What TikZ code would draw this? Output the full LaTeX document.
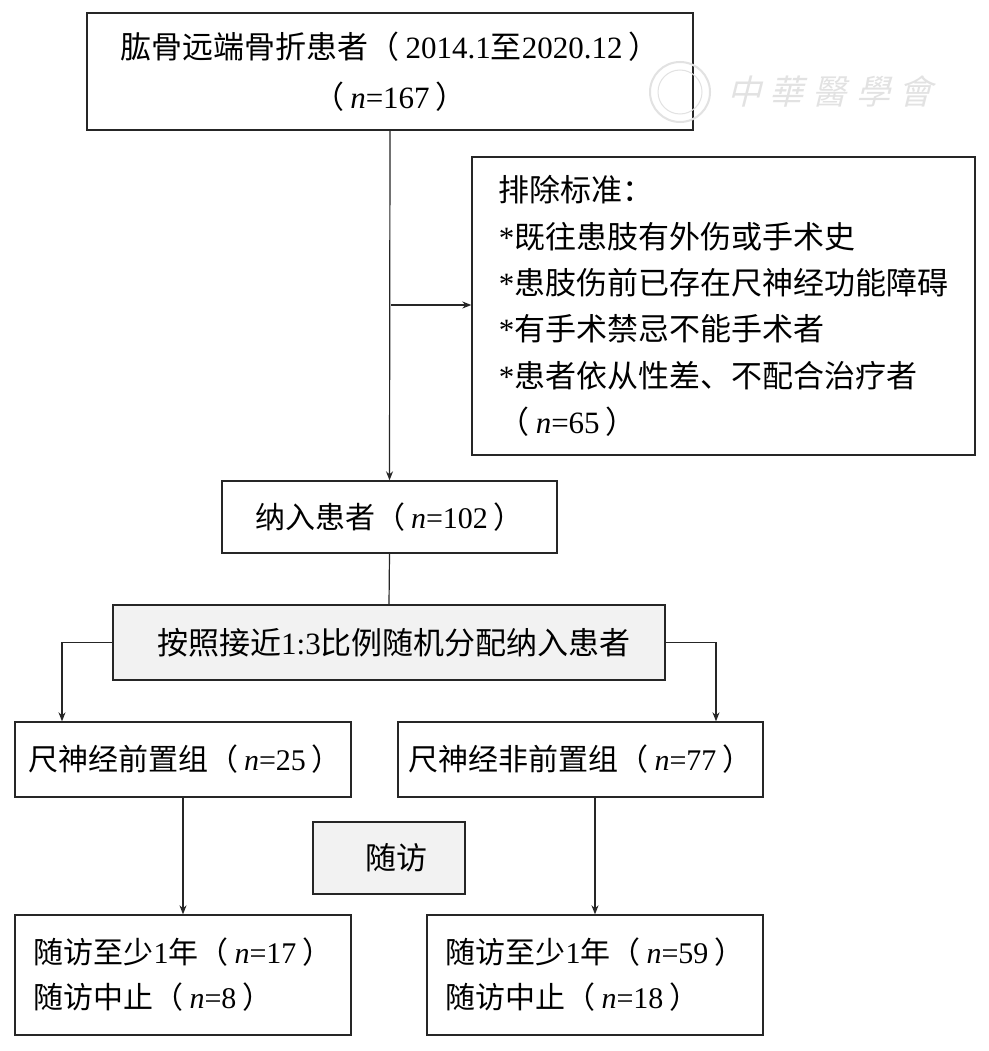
\documentclass[tikz,border=0pt]{standalone}
\usepackage{fontspec}
\setmainfont{Liberation Serif}
\newfontfamily\cjk{Noto Sans CJK SC}
\newfontfamily\wmfont[FakeSlant=0.25]{Noto Sans CJK TC}
\usetikzlibrary{arrows.meta,calc}
\newcommand{\C}[1]{{\cjk #1}}
\newcommand{\nn}{\textit{n}}
\newcommand{\LP}{{\cjk （}\hspace{6pt}}
\newcommand{\RP}{\hspace{6pt}{\cjk ）}}
\definecolor{boxgray}{HTML}{F2F2F2}
\definecolor{wmgray}{HTML}{E2E2E2}
\tikzset{
  box/.style={draw=black!85, line width=1.35pt, inner sep=0pt, fill=white,
              font=\fontsize{31}{36}\selectfont},
  smallbox/.style={box, font=\fontsize{30}{36}\selectfont},
  graybox/.style={box, fill=boxgray},
  arr/.style={draw=black!85, line width=1.2pt, -{Stealth[length=9pt,width=7pt]}},
  conn/.style={draw=black!85, line width=1.2pt},
}
\begin{document}
\begin{tikzpicture}[x=1pt,y=-1pt]
\useasboundingbox[fill=white] (0,0) rectangle (988,1051);

% boxes
\node[box, minimum width=606pt, minimum height=117pt, align=center,
      font=\fontsize{31}{50}\selectfont] (top) at (390,71.5)
  {\C{肱骨远端骨折患者}\LP 2014.1\C{至}2020.12\RP\\\LP\nn=167\RP};

\node[box, minimum width=503pt, minimum height=298pt, align=left,
      font=\fontsize{31}{46.4}\selectfont] (excl) at (723.5,306)
  {\C{排除标准：}\\
   *\C{既往患肢有外伤或手术史}\\
   *\C{患肢伤前已存在尺神经功能障碍}\\
   *\C{有手术禁忌不能手术者}\\
   *\C{患者依从性差、不配合治疗者}\\
   \LP\nn=65\RP};

\node[smallbox, minimum width=335pt, minimum height=72pt] (incl) at (389.5,517)
  {\C{纳入患者}\LP\nn=102\RP};

\node[graybox, minimum width=552pt, minimum height=75pt] (split) at (389,642.5)
  {\hspace{10pt}\C{按照接近}1:3\C{比例随机分配纳入患者}};

\node[smallbox, minimum width=336pt, minimum height=75pt] (lgroup) at (183,759.5)
  {\hspace{4pt}\C{尺神经前置组}\LP\nn=25\RP};
\node[smallbox, minimum width=365pt, minimum height=75pt] (rgroup) at (580.5,759.5)
  {\C{尺神经非前置组}\LP\nn=77\RP};

\node[graybox, minimum width=152pt, minimum height=72pt] (fu) at (389,858)
  {\hspace{14pt}\C{随访}};

\node[smallbox, minimum width=336pt, minimum height=120pt, align=left,
      font=\fontsize{30}{45}\selectfont] (bl) at (183,975)
  {\C{随访至少}1\C{年}\LP\nn=17\RP\\\C{随访中止}\LP\nn=8\RP};
\node[smallbox, minimum width=336pt, minimum height=120pt, align=left,
      font=\fontsize{30}{45}\selectfont] (br) at (595,975)
  {\C{随访至少}1\C{年}\LP\nn=59\RP\\\C{随访中止}\LP\nn=18\RP};

% watermark
\node[circle, draw=wmgray, line width=2pt, minimum size=60pt, inner sep=0pt] (seal) at (680,92) {};
\node[circle, draw=wmgray, line width=1pt, minimum size=44pt, inner sep=0pt] (sealin) at (680,92) {};
\node[text=wmgray, font=\wmfont\fontsize{34}{34}\selectfont] (wm) at (830,92)
  {中\hspace{9pt}華\hspace{9pt}醫\hspace{9pt}學\hspace{9pt}會};

% connectors
\coordinate (j) at (391,305);
\coordinate (la) at (62,722);
\coordinate (ra) at (716,722);
\draw[arr] (top.south) -- (incl.north);
\draw[arr] (j) -- (excl.west |- j);
\draw[conn] (incl.south) -- (split.north);
\draw[arr] (split.west) -| (lgroup.north -| la);
\draw[arr] (split.east) -| (rgroup.north -| ra);
\draw[arr] (lgroup.south) -- (bl.north);
\draw[arr] (br.north |- rgroup.south) -- (br.north);
\end{tikzpicture}
\end{document}
